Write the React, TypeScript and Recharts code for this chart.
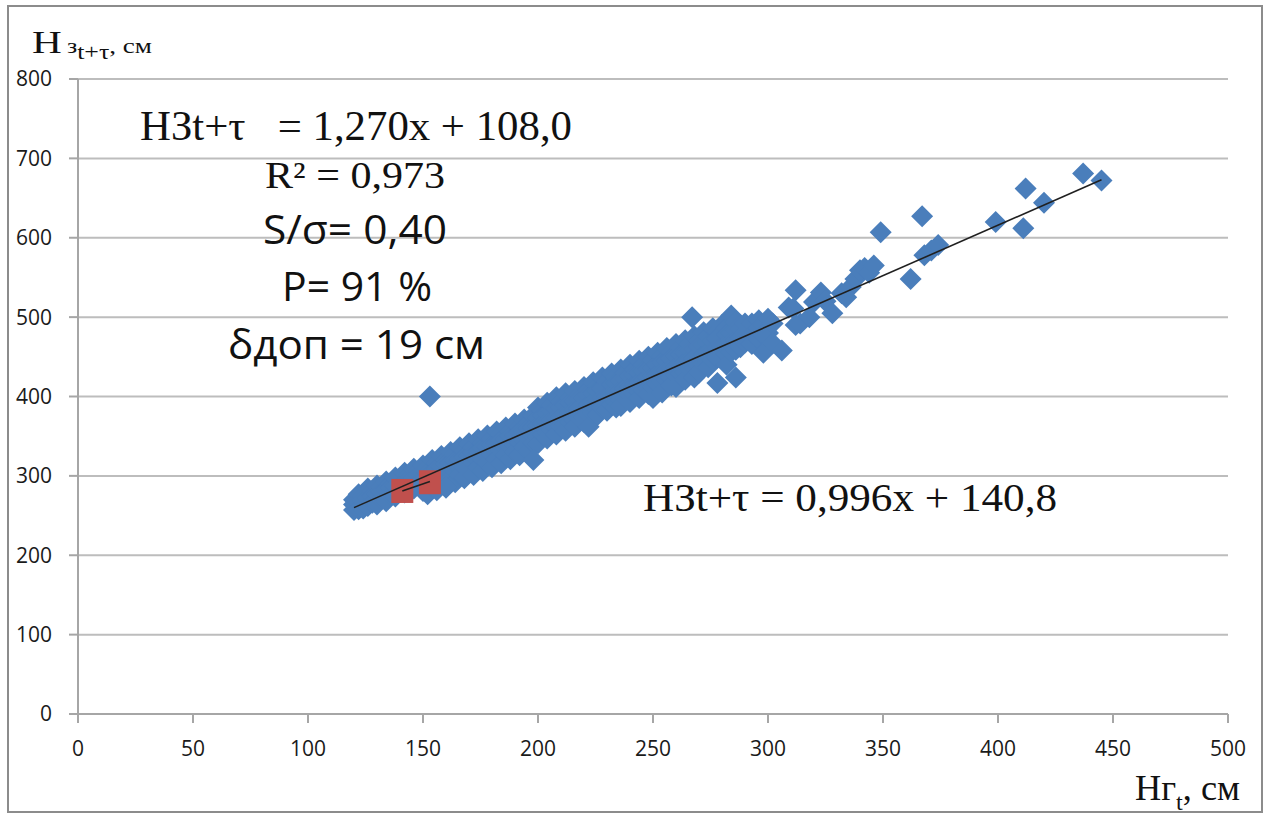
import React from 'react';
import { ScatterChart, Scatter, XAxis, YAxis, CartesianGrid } from 'recharts';

// x tick values and y tick values
const xTicks = [0, 50, 100, 150, 200, 250, 300, 350, 400, 450, 500];
const yTicks = [0, 100, 200, 300, 400, 500, 600, 700, 800];

// dense band, left end: [Hг, list of Hз at that Hг]
const bandStart: [number, number[]][] = [
  [120, [270, 264, 257]], [122, [277, 266, 258]], [124, [274, 269, 259]], [126, [284, 272, 262]],
  [128, [281, 275, 266]], [130, [288, 278, 264]], [132, [286, 280, 271]], [134, [293, 283, 268]],
  [136, [290, 285, 276]], [138, [298, 287, 274]], [140, [296, 291, 280]], [142, [304, 292, 279]],
  [144, [301, 296, 286]], [146, [309, 297, 284]], [148, [306, 301, 291]],
];

// dense band, lower part
const bandLow: [number, number[]][] = [
  [150, [313, 300, 288, 281]], [152, [310, 304, 291, 277]], [154, [320, 305, 294, 286]],
  [156, [316, 309, 296, 282]], [158, [325, 311, 300, 291]], [160, [321, 314, 301, 287]],
  [162, [330, 316, 305, 296]], [164, [327, 319, 306, 292]], [166, [336, 321, 310, 301]],
  [168, [331, 324, 311, 297]], [170, [341, 326, 315, 306]], [172, [336, 329, 316, 301]],
  [174, [346, 331, 320, 311]], [176, [341, 335, 321, 306]], [178, [351, 336, 325, 316]],
  [180, [347, 340, 327, 311]], [182, [356, 341, 330, 321]], [184, [352, 345, 332, 316]],
  [186, [361, 346, 335, 326]], [188, [356, 350, 337, 321]], [190, [366, 351, 340, 331]],
  [192, [362, 355, 342, 326]], [194, [371, 356, 345, 336]], [196, [367, 360, 347, 332]],
  [198, [376, 361, 350, 341]],
];

// dense band, middle part
const bandMid: [number, number[]][] = [
  [200, [386, 374, 362, 350, 341]], [202, [382, 376, 366, 352]], [204, [392, 379, 368, 355, 347]],
  [206, [389, 381, 370, 358]], [208, [399, 384, 373, 360, 352]], [210, [394, 386, 375, 362]],
  [212, [404, 389, 378, 365, 357]], [214, [398, 392, 380, 368]], [216, [407, 394, 383, 370, 362]],
  [218, [402, 397, 385, 373]], [220, [412, 399, 388, 375, 368]], [222, [408, 402, 390, 378, 362]],
  [224, [418, 404, 393, 380]], [226, [414, 407, 395, 383, 377]], [228, [424, 410, 398, 386]],
  [230, [419, 412, 400, 388, 382]], [232, [429, 415, 403, 390]], [234, [424, 417, 405, 393, 386]],
  [236, [434, 420, 408, 396, 388]], [238, [430, 422, 410, 398]], [240, [440, 425, 413, 401, 393]],
  [242, [434, 427, 415, 403]], [244, [445, 430, 418, 406, 398]], [246, [440, 432, 420, 408]],
  [248, [450, 435, 423, 411, 403]], [250, [445, 437, 425, 413, 398]], [252, [455, 440, 428, 416]],
  [254, [451, 443, 431, 419, 405]], [256, [461, 445, 433, 421]], [258, [456, 448, 436, 424, 414]],
  [260, [466, 450, 438, 426, 412]], [262, [461, 453, 441, 429]], [264, [471, 455, 443, 431, 421]],
  [266, [466, 458, 446, 434]], [268, [476, 460, 448, 436, 424]], [270, [471, 463, 451, 439, 430]],
  [272, [481, 465, 453, 441]], [274, [476, 468, 456, 444, 437]], [276, [486, 470, 458, 446]],
  [278, [481, 473, 461, 449, 417]], [280, [490, 475, 463, 451]], [282, [486, 478, 466, 454, 440]],
  [284, [502, 480, 468, 456]], [286, [494, 483, 471, 459, 424]], [288, [490, 485, 474, 462]],
  [290, [492, 480, 468]], [293, [492, 478, 466]], [296, [496, 486, 472]], [298, [490, 478, 455]],
];

// sparse upper part of the cloud
const upperTail: [number, number[]][] = [
  [300, [498, 480]], [302, [492, 467]], [306, [458]], [309, [512]], [311, [511]], [312, [534, 490]],
  [314, [492]], [318, [500]], [320, [519]], [323, [531]], [325, [520]], [328, [505]], [332, [530]],
  [334, [525]], [336, [538]], [338, [548]], [340, [559]], [342, [562]], [344, [556]], [346, [565]],
  [349, [607]], [362, [548]], [367, [627]], [368, [578]], [371, [584]], [374, [591]], [399, [620]],
  [411, [612]], [412, [662]], [420, [644]], [437, [681]], [445, [672]],
];

// single points away from the band
const outliers: [number, number][] = [[153, 400], [160, 285], [198, 320], [267, 500]];

// red series
const redPoints: [number, number][] = [[141, 281], [153, 292]];

// trend line ends
const blueTrend = [{ x: 120, y: 260 }, { x: 445, y: 673 }];
const redTrend = [{ x: 141, y: 281 }, { x: 153, y: 293 }];

const blueData = [
  ...[...bandStart, ...bandLow, ...bandMid, ...upperTail].flatMap(([x, ys]) => ys.map((y) => ({ x, y }))),
  ...outliers.map(([x, y]) => ({ x, y })),
];
const redData = redPoints.map(([x, y]) => ({ x, y }));

const Diamond = (props: any) => {
  const { cx, cy } = props;
  const r = 11;
  return (
    <polygon
      points={`${cx},${cy - r} ${cx + r},${cy} ${cx},${cy + r} ${cx - r},${cy}`}
      fill="#4a7ebb"
    />
  );
};

const Square = (props: any) => {
  const { cx, cy } = props;
  return <rect x={cx - 11} y={cy - 12} width={22} height={24} fill="#c0504d" />;
};

const NoDot = () => <g />;

const serif = '"Liberation Serif", "Times New Roman", serif';
const sans = '"Open Sans", "Noto Sans", sans-serif';
const grey = '#a6a6a6';

export default function App() {
  return (
    <div style={{ position: 'absolute', left: 0, top: 0, width: 1271, height: 823, background: '#fff' }}>
      <div
        style={{
          position: 'absolute', left: 7, top: 5, width: 1256, height: 808,
          border: '2px solid #8c8c8c', boxSizing: 'border-box',
        }}
      />
      <ScatterChart width={1271} height={823} margin={{ top: 79, right: 43, bottom: 69, left: 18 }}>
        <CartesianGrid vertical={false} stroke="#bdbdbd" strokeWidth={2} />
        <XAxis
          type="number" dataKey="x" domain={[0, 500]} ticks={xTicks} height={40}
          tickSize={9} tickMargin={18} interval={0}
          stroke={grey} strokeWidth={2}
          tick={{ fill: '#1a1a1a', fontSize: 21, fontFamily: sans }}
          tickLine={{ stroke: grey, strokeWidth: 2 }}
        />
        <YAxis
          type="number" dataKey="y" domain={[0, 800]} ticks={yTicks} width={60}
          tickSize={9} tickMargin={17} interval={0}
          stroke={grey} strokeWidth={2}
          tick={{ fill: '#1a1a1a', fontSize: 21, fontFamily: sans }}
          tickLine={{ stroke: grey, strokeWidth: 2 }}
        />
        <Scatter data={blueData} shape={Diamond} isAnimationActive={false} />
        <Scatter data={redData} shape={Square} isAnimationActive={false} />
        <Scatter data={blueTrend} shape={NoDot} line={{ stroke: '#202020', strokeWidth: 1.6 }} isAnimationActive={false} />
        <Scatter data={redTrend} shape={NoDot} line={{ stroke: '#202020', strokeWidth: 1.6 }} isAnimationActive={false} />

        <text x={32} y={53} fontFamily={serif} fill="#111" textLength={120} lengthAdjust="spacingAndGlyphs">
          <tspan fontSize={32}>Н</tspan>
          <tspan fontSize={20} dx={4}>з</tspan>
          <tspan fontSize={20} dy={6}>t+τ</tspan>
          <tspan fontSize={21} dy={-6}>, см</tspan>
        </text>
        <text x={1135} y={800} fontFamily={serif} fill="#111" textLength={105} lengthAdjust="spacingAndGlyphs">
          <tspan fontSize={36}>Нг</tspan>
          <tspan fontSize={24} dy={10}>t</tspan>
          <tspan fontSize={36} dy={-10}>, см</tspan>
        </text>

        <text x={140} y={140} fontFamily={serif} fontSize={42} fill="#111" style={{ whiteSpace: 'pre' }}
          textLength={432} lengthAdjust="spacingAndGlyphs">НЗt+τ   = 1,270x + 108,0</text>
        <text x={265} y={188} fontFamily={serif} fontSize={38} fill="#111"
          textLength={180} lengthAdjust="spacingAndGlyphs">R² = 0,973</text>
        <text x={263} y={244} fontFamily={sans} fontSize={40} fill="#111"
          textLength={184} lengthAdjust="spacingAndGlyphs">S/σ= 0,40</text>
        <text x={282} y={301} fontFamily={sans} fontSize={40} fill="#111"
          textLength={150} lengthAdjust="spacingAndGlyphs">P= 91 %</text>
        <text x={228} y={359} fontFamily={sans} fontSize={40} fill="#111"
          textLength={257} lengthAdjust="spacingAndGlyphs">δдоп = 19 см</text>
        <text x={643} y={511} fontFamily={serif} fontSize={40} fill="#111"
          textLength={414} lengthAdjust="spacingAndGlyphs">НЗt+τ = 0,996x + 140,8</text>
      </ScatterChart>
    </div>
  );
}
